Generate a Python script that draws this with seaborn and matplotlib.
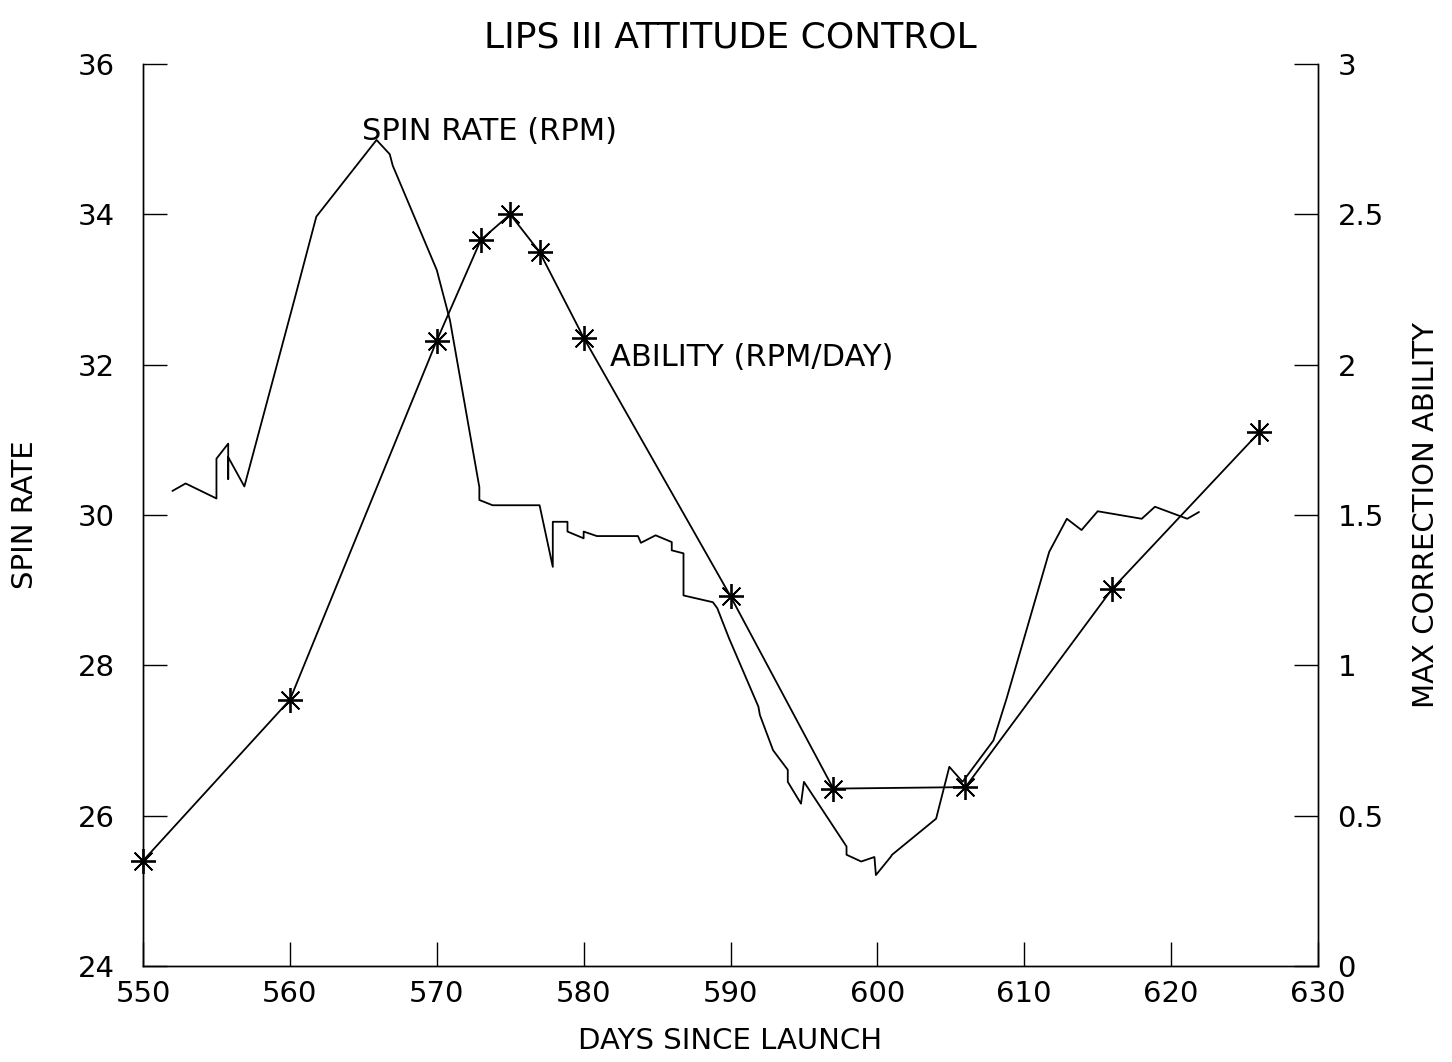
import numpy as np
import pandas as pd
import seaborn as sns
import matplotlib.pyplot as plt
from matplotlib.ticker import FuncFormatter

# spin rate (rpm)
spin_days = [552.0, 552.9, 555.0, 555.0, 555.8, 555.8, 555.8, 556.9, 560.3, 561.8,
             565.9, 566.8, 567.0, 570.0, 570.9, 572.9, 572.9, 573.8, 577.0, 577.9,
             577.9, 578.9, 578.9, 580.0, 580.0, 580.9, 583.7, 583.9, 584.9, 586.0,
             586.0, 586.8, 586.8, 588.8, 589.1, 589.9, 591.9, 592.0, 592.9, 593.9,
             593.9, 594.8, 595.0, 597.9, 597.9, 598.9, 599.8, 599.9, 600.9, 601.0,
             604.0, 604.9, 605.8, 607.9, 608.8, 611.7, 612.9, 613.9, 615.0, 618.0,
             618.9, 621.1, 621.9]
spin_rpm = [30.32, 30.42, 30.22, 30.75, 30.95, 30.48, 30.77, 30.38, 32.86, 33.97,
            34.99, 34.80, 34.65, 33.26, 32.59, 30.37, 30.20, 30.13, 30.13, 29.31,
            29.91, 29.91, 29.78, 29.69, 29.78, 29.72, 29.72, 29.63, 29.73, 29.64,
            29.53, 29.49, 28.93, 28.84, 28.76, 28.36, 27.45, 27.34, 26.87, 26.61,
            26.45, 26.16, 26.45, 25.59, 25.48, 25.39, 25.45, 25.21, 25.45, 25.48,
            25.96, 26.65, 26.45, 27.00, 27.56, 29.51, 29.95, 29.80, 30.05, 29.95,
            30.11, 29.95, 30.04]

# max correction ability (rpm/day)
abil_days = [550, 560, 570, 573, 575, 577, 580, 590, 597, 606, 616, 626]
abil_vals = [0.35, 0.885, 2.08, 2.415, 2.5, 2.375, 2.09, 1.23, 0.59, 0.595, 1.255, 1.775]

spin = pd.DataFrame({'day': spin_days, 'rpm': spin_rpm})
abil = pd.DataFrame({'day': abil_days, 'ability': abil_vals})

sns.set_style('white')
plt.rcParams['font.family'] = ['DejaVu Sans']
plt.rcParams['text.color'] = 'black'
plt.rcParams['xtick.color'] = 'black'
plt.rcParams['ytick.color'] = 'black'
plt.rcParams['axes.labelcolor'] = 'black'

fig = plt.figure(figsize=(14.52, 10.62), dpi=100)
ax = fig.add_axes([0.0985, 0.0904, 0.8092, 0.8493])
ax2 = ax.twinx()

sns.lineplot(data=spin, x='day', y='rpm', ax=ax, color='black', lw=1.3,
             estimator=None, sort=False)
sns.lineplot(data=abil, x='day', y='ability', ax=ax2, color='black', lw=1.3,
             estimator=None, sort=False, marker=(8, 2, 0), markersize=18,
             markeredgewidth=1.3, markeredgecolor='black', clip_on=False)

ax.set_xlim(550, 630)
ax.set_ylim(24, 36)
ax2.set_ylim(0, 3)
ax.set_xticks(range(550, 631, 10))
ax.set_yticks(range(24, 37, 2))
ax2.set_yticks(np.arange(0, 3.01, 0.5))
ax2.yaxis.set_major_formatter(FuncFormatter(lambda v, p: f'{v:g}'))

for a in (ax, ax2):
    a.spines['top'].set_visible(False)
    for s in a.spines.values():
        s.set_linewidth(1.0)
        s.set_color('black')

ax.tick_params(axis='y', direction='in', length=17, width=1, labelsize=21, pad=20,
               left=True, right=False)
ax.tick_params(axis='x', direction='in', length=17, width=1, labelsize=21, pad=10,
               bottom=True)
ax2.tick_params(axis='y', direction='in', length=17, width=1, labelsize=21, pad=14,
                right=True, left=False)

ax.set_xlabel('DAYS SINCE LAUNCH', fontsize=21, labelpad=14)
ax.set_ylabel('SPIN RATE', fontsize=21, labelpad=28)
ax2.set_ylabel('MAX CORRECTION ABILITY', fontsize=21, labelpad=20)
ax.set_title('LIPS III ATTITUDE CONTROL', fontsize=26, pad=12)

ax.text(564.9, 35.1, 'SPIN RATE (RPM)', fontsize=22, va='center', ha='left')
ax.text(581.8, 32.1, 'ABILITY (RPM/DAY)', fontsize=22, va='center', ha='left')

plt.savefig('out.png', dpi=100)
